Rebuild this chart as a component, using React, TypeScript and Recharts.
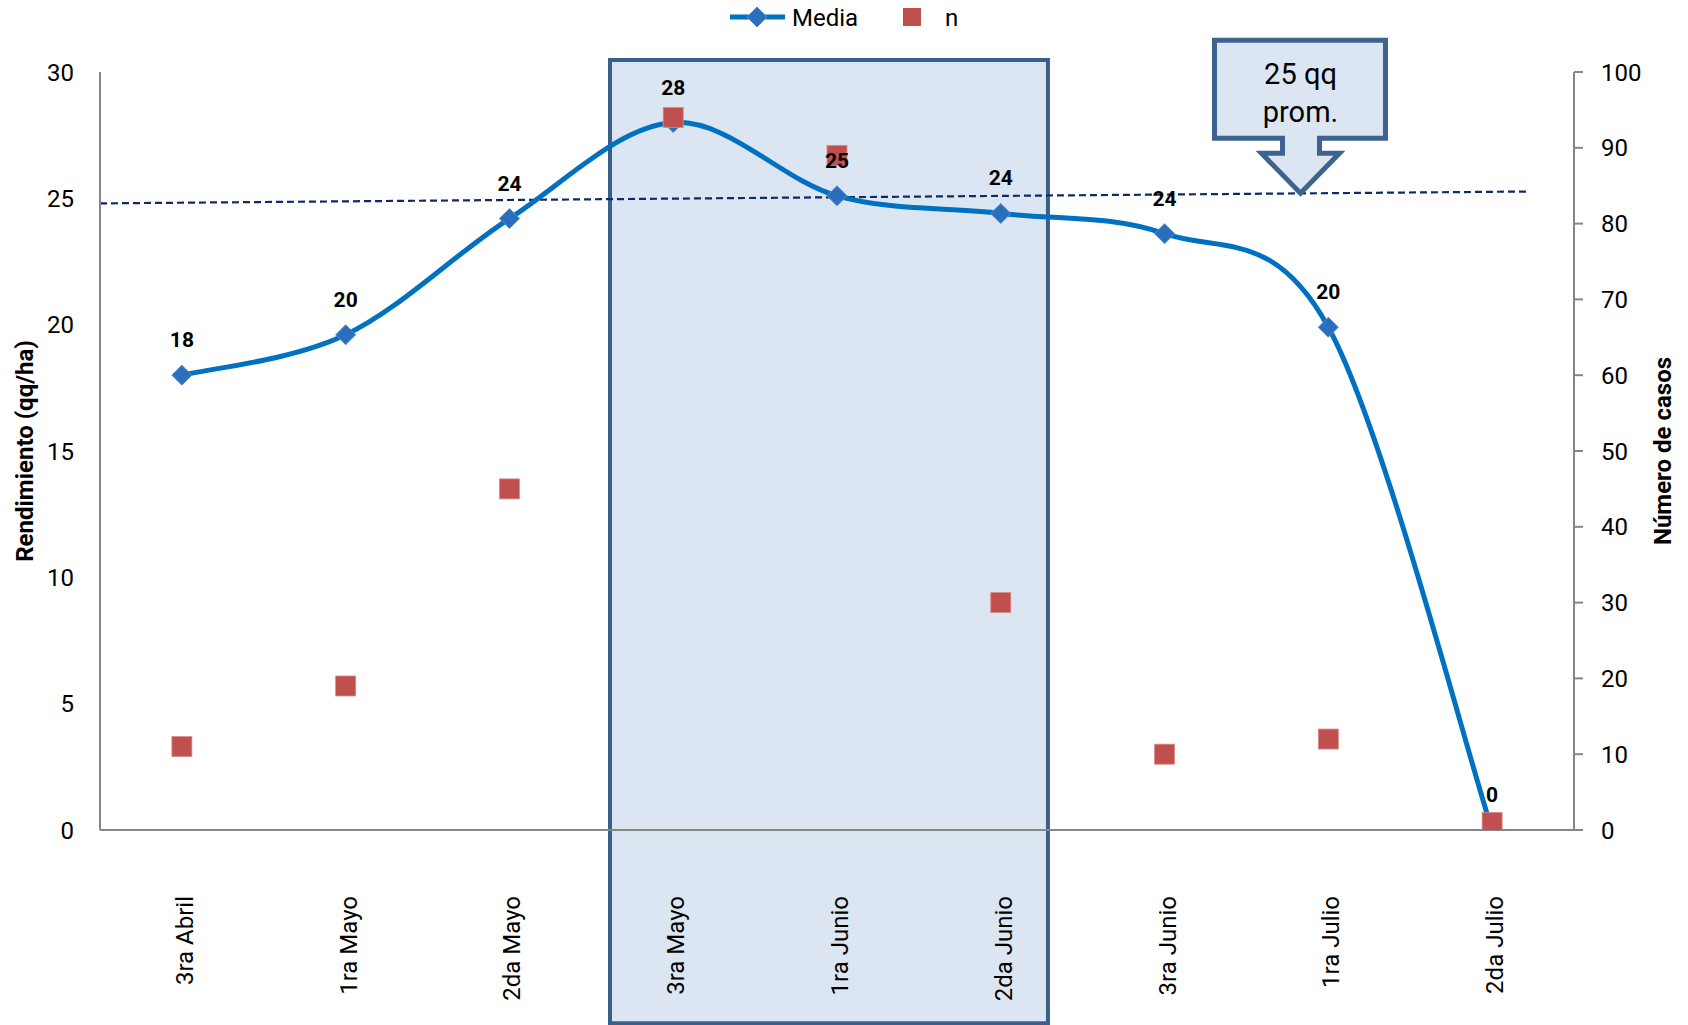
import React from "react";
import {
  ComposedChart,
  Line,
  XAxis,
  YAxis,
  ReferenceArea,
  ReferenceLine,
  ReferenceDot,
  LabelList,
  Customized,
} from "recharts";

// ---------- data ----------
const categories = [
  "3ra Abril",
  "1ra Mayo",
  "2da Mayo",
  "3ra Mayo",
  "1ra Junio",
  "2da Junio",
  "3ra Junio",
  "1ra Julio",
  "2da Julio",
];
const mediaValues = [18.0, 19.6, 24.2, 28.0, 25.1, 24.4, 23.6, 19.9, 0];
const nValues = [11, 19, 45, 94, 89, 30, 10, 12, 1];
const leftTicks = [0, 5, 10, 15, 20, 25, 30];
const rightTicks = [0, 10, 20, 30, 40, 50, 60, 70, 80, 90, 100];
const trendStart = { x: 0, y: 24.8 };
const trendEnd = { x: 8.72, y: 25.27 };
const highlightRange = { x1: 3.114, x2: 5.788, y1: -7.65, y2: 30.47 };
const calloutPoint = { x: 7.33, y: 25.2 };
const calloutLines = ["25 qq", "prom."];
const seriesNames = { media: "Media", n: "n" };

const data = categories.map((c, i) => ({
  cat: c,
  media: mediaValues[i],
  n: nValues[i],
}));

const FONT = "Roboto, 'Open Sans', sans-serif";

// Excel-like smoothed curve (Catmull-Rom via cubic Bezier)
const excelCurve: any = (context: any) => {
  let pts: number[][] = [];
  return {
    areaStart() {},
    areaEnd() {},
    lineStart() {
      pts = [];
    },
    point(x: number, y: number) {
      pts.push([+x, +y]);
    },
    lineEnd() {
      const n = pts.length;
      if (!n) return;
      context.moveTo(pts[0][0], pts[0][1]);
      for (let i = 0; i < n - 1; i++) {
        const p0 = pts[Math.max(0, i - 1)];
        const p1 = pts[i];
        const p2 = pts[i + 1];
        const p3 = pts[Math.min(n - 1, i + 2)];
        const c1x = p1[0] + (p2[0] - p0[0]) / 6;
        const c1y = p1[1] + (p2[1] - p0[1]) / 6;
        const c2x = p2[0] - (p3[0] - p1[0]) / 6;
        const c2y = p2[1] - (p3[1] - p1[1]) / 6;
        context.bezierCurveTo(c1x, c1y, c2x, c2y, p2[0], p2[1]);
      }
    },
  };
};

const Diamond = (props: any) => {
  const { cx, cy } = props;
  if (cx == null || cy == null) return null;
  const r = 10;
  return (
    <path
      d={`M${cx},${cy - r} L${cx + r},${cy} L${cx},${cy + r} L${cx - r},${cy} Z`}
      fill="#2a6fbe"
      stroke="#5a8ccc"
      strokeWidth={1}
    />
  );
};

const Square = (props: any) => {
  const { cx, cy } = props;
  if (cx == null || cy == null) return null;
  const s = 20;
  return (
    <rect
      x={cx - s / 2}
      y={cy - s / 2}
      width={s}
      height={s}
      fill="#c0504d"
      stroke="#d98a88"
      strokeWidth={0.8}
    />
  );
};

const MediaLabel = (props: any) => {
  const x = props.x ?? props.viewBox?.x;
  const y = props.y ?? props.viewBox?.y;
  if (x == null || y == null) return null;
  return (
    <text
      x={x}
      y={y - 28}
      textAnchor="middle"
      fontFamily={FONT}
      fontWeight={700}
      fontSize={21}
      fill="#000"
    >
      {Math.round(Number(props.value))}
    </text>
  );
};

const XTick = (props: any) => {
  const { x, y, payload } = props;
  return (
    <text
      transform={`translate(${x + 11},${y + 66}) rotate(-90)`}
      textAnchor="end"
      fontFamily={FONT}
      fontSize={24}
      fill="#000"
    >
      {payload.value}
    </text>
  );
};

const Callout = (props: any) => {
  const { cx, cy } = props;
  if (cx == null || cy == null) return null;
  const d =
    "M-86,-153 H85 V-55 H19 V-40 H39 L0,0 L-39,-40 H-18 V-55 H-86 Z";
  return (
    <g transform={`translate(${cx},${cy})`}>
      <path d={d} fill="#dce6f2" stroke="#3e6391" strokeWidth={5} strokeLinejoin="miter" />
      <text x={0} y={-109} textAnchor="middle" fontFamily={FONT} fontSize={29} fill="#000">
        {calloutLines[0]}
      </text>
      <text x={0} y={-71} textAnchor="middle" fontFamily={FONT} fontSize={29} fill="#000">
        {calloutLines[1]}
      </text>
    </g>
  );
};

const LegendSvg = () => (
  <g>
    <line x1={730} y1={17} x2={785} y2={17} stroke="#0070c0" strokeWidth={5} />
    <Diamond cx={757} cy={17} />
    <text x={792} y={25.5} fontFamily={FONT} fontSize={24} fill="#000">
      {seriesNames.media}
    </text>
    <rect x={903} y={8} width={18} height={18} fill="#c0504d" />
    <text x={945} y={25.5} fontFamily={FONT} fontSize={24} fill="#000">
      {seriesNames.n}
    </text>
  </g>
);

const LeftTitle = (props: any) => {
  const vb = props.viewBox || {};
  const cx = vb.x + 25;
  const cy = vb.y + vb.height / 2;
  return (
    <text
      transform={`translate(${cx},${cy}) rotate(-90)`}
      textAnchor="middle"
      dominantBaseline="central"
      fontFamily={FONT}
      fontWeight={700}
      fontSize={24}
      fill="#000"
    >
      Rendimiento (qq/ha)
    </text>
  );
};

const RightTitle = (props: any) => {
  const vb = props.viewBox || {};
  const cx = vb.x + 89;
  const cy = vb.y + vb.height / 2;
  return (
    <text
      transform={`translate(${cx},${cy}) rotate(-90)`}
      textAnchor="middle"
      dominantBaseline="central"
      fontFamily={FONT}
      fontWeight={700}
      fontSize={24}
      fill="#000"
    >
      Número de casos
    </text>
  );
};

const zeroKey = () => 0;

export default function App() {
  return (
    <div style={{ position: "absolute", left: 0, top: 0, width: 1688, height: 1025, background: "#fff" }}>
      <ComposedChart
        width={1688}
        height={1025}
        data={data}
        margin={{ top: 72, right: 0, bottom: 0, left: 0 }}
      >
        <XAxis
          dataKey="cat"
          scale="band"
          height={195}
          tick={<XTick />}
          tickLine={false}
          tickSize={0}
          tickMargin={0}
          axisLine={{ stroke: "#868686", strokeWidth: 2 }}
          interval={0}
        />
        <XAxis
          xAxisId="num"
          type="number"
          dataKey={zeroKey}
          domain={[0, 9]}
          allowDataOverflow
          hide
        />
        <YAxis
          yAxisId="left"
          width={100}
          domain={[0, 30]}
          ticks={leftTicks}
          allowDataOverflow
          tickLine={false}
          tickSize={0}
          tickMargin={26}
          axisLine={{ stroke: "#868686", strokeWidth: 2 }}
          tick={{ fontFamily: FONT, fontSize: 24, fill: "#000" }}
          label={<LeftTitle />}
        />
        <YAxis
          yAxisId="right"
          orientation="right"
          width={114}
          domain={[0, 100]}
          ticks={rightTicks}
          allowDataOverflow
          tickLine={{ stroke: "#868686", strokeWidth: 2 }}
          tickSize={9}
          tickMargin={18}
          axisLine={{ stroke: "#868686", strokeWidth: 2 }}
          tick={{ fontFamily: FONT, fontSize: 24, fill: "#000", textAnchor: "start" }}
          label={<RightTitle />}
        />
        <ReferenceLine
          xAxisId="num"
          yAxisId="left"
          segment={[trendStart, trendEnd]}
          stroke="#0f2a66"
          strokeWidth={2.2}
          strokeDasharray="7 4"
          ifOverflow="visible"
        />
        <Line
          yAxisId="left"
          dataKey="media"
          name={seriesNames.media}
          type={excelCurve}
          stroke="#0070c0"
          strokeWidth={5}
          dot={<Diamond />}
          activeDot={false}
          isAnimationActive={false}
        >
          <LabelList dataKey="media" content={<MediaLabel />} />
        </Line>
        <Line
          yAxisId="right"
          dataKey="n"
          name={seriesNames.n}
          stroke="none"
          dot={<Square />}
          activeDot={false}
          isAnimationActive={false}
        />
        <ReferenceArea
          xAxisId="num"
          yAxisId="left"
          x1={highlightRange.x1}
          x2={highlightRange.x2}
          y1={highlightRange.y1}
          y2={highlightRange.y2}
          fill="#4f81bd"
          fillOpacity={0.2}
          stroke="#3b5f8d"
          strokeWidth={4}
          strokeOpacity={1}
          ifOverflow="visible"
        />
        <ReferenceDot
          xAxisId="num"
          yAxisId="left"
          x={calloutPoint.x}
          y={calloutPoint.y}
          shape={<Callout />}
          ifOverflow="visible"
        />
        <Customized component={<LegendSvg />} />
      </ComposedChart>
    </div>
  );
}
